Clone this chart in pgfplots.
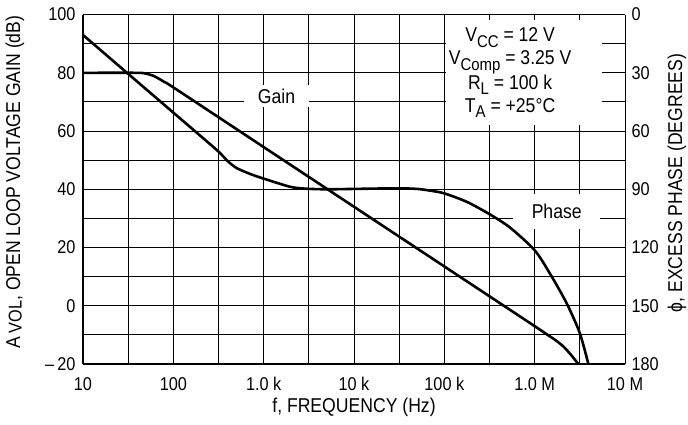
\documentclass[border=0pt]{standalone}
\usepackage{fontspec}
\setmainfont{Liberation Sans}[FakeStretch=0.88]
\usepackage{pgfplots}
\pgfplotsset{compat=1.18}

% lowered, slightly smaller subscript as in the datasheet
\newcommand\sub[1]{\raisebox{-0.28em}{\fontsize{17}{17}\selectfont #1}}

\begin{document}
\begin{tikzpicture}
\begin{axis}[name=gain,
  scale only axis, width=542pt, height=349.4pt,
  xmode=log, xmin=10, xmax=1e7,
  ymin=-20, ymax=100,
  major tick length=0pt, minor tick length=0pt,
  tick label style={font=\fontsize{18.5}{20}\selectfont},
  axis lines=left, axis line style={-, line width=2.2pt},
  xtick={10,100,1000,10000,100000,1000000,10000000},
  xticklabels={10,100,1.0 k,10 k,100 k,1.0 M,10 M},
  minor xtick={31.623,316.23,3162.3,31623,316228,3162278},
  ytick={-20,0,20,40,60,80,100},
  yticklabels={--\,20,0,20,40,60,80,100},
  minor ytick={-10,10,30,50,70,90},
  grid=both,
  major grid style={black, line width=0.9pt},
  minor grid style={black, line width=0.9pt},
  xticklabel style={anchor=center, yshift=-20pt},
  yticklabel style={anchor=east, xshift=-4pt},
  every axis x label/.style={at={(axis description cs:0.5,-0.123)}, anchor=center,
    font=\fontsize{20}{22}\selectfont},
  every axis y label/.style={at={(axis description cs:-0.1255,0.521)}, anchor=center,
    rotate=90, font=\fontsize{20}{22}\selectfont},
  xlabel={f, FREQUENCY (Hz)},
  ylabel={A\,\raisebox{-1.5pt}{\fontsize{18.5}{20}\selectfont VOL}, OPEN LOOP VOLTAGE GAIN (dB)},
]
\addplot[black, line width=2.6pt, smooth, tension=0.45] coordinates {
  (10,80) (40,80) (50,79.7) (60,79.0) (70,77.9) (80,76.8) (100,75.0)
  (1000,54.5) (10000,34.0) (100000,13.5) (1000000,-7.0) (1360000,-9.8)
  (1700000,-11.8) (2080000,-14.0) (2500000,-16.7) (3040000,-20)
};
\node[fill=white, inner sep=0pt, minimum width=65pt, minimum height=22pt,
  font=\fontsize{20}{22}\selectfont] at (rel axis cs:0.357,0.767) {Gain};
\node[fill=white, inner sep=0pt, minimum width=87pt, minimum height=35pt,
  font=\fontsize{20}{22}\selectfont] at (rel axis cs:0.874,0.436) {Phase};
\node[fill=white, inner sep=0pt, minimum width=156pt, minimum height=105pt]
  at (rel axis cs:0.8137,0.834) {};
\node[align=center, inner sep=0pt, font=\fontsize{20}{23}\selectfont]
  at (rel axis cs:0.788,0.834)
  {V\sub{CC} = 12 V\\ V\sub{Comp} = 3.25 V\\ R\sub{L} = 100 k\\ T\sub{A} = +25°C};
\end{axis}

\begin{axis}[
  scale only axis, width=542pt, height=349.4pt,
  xmode=log, xmin=10, xmax=1e7,
  ymin=0, ymax=180, y dir=reverse,
  major tick length=0pt, minor tick length=0pt,
  tick label style={font=\fontsize{18.5}{20}\selectfont},
  axis x line=none, axis y line*=right, y axis line style={draw=none},
  ytick={0,30,60,90,120,150,180},
  yticklabels={0,30,60,90,120,150,180},
  yticklabel style={anchor=west, xshift=3pt},
  every axis y label/.style={at={(axis description cs:1.096,0.518)}, anchor=center,
    rotate=90, font=\fontsize{20}{22}\selectfont},
  ylabel={ϕ, EXCESS PHASE (DEGREES)},
]
\addplot[black, line width=2.6pt, smooth, tension=0.45] coordinates {
  (10,10.5) (30,29.6) (100,50.5) (300,69.6) (400,75.5) (500,79.0) (700,82.0)
  (1000,84.5) (2000,88.8) (3000,89.7) (5000,90.0) (10000,89.8) (30000,89.5)
  (50000,89.8) (70000,90.7) (100000,92.1) (178000,96.5) (316000,102.8)
  (533000,109.7) (1000000,121.4) (1480000,133.5) (2260000,148.7)
  (3160000,164.1) (3930000,180)
};
\end{axis}

\pgfresetboundingbox
\path[use as bounding box] ([xshift=-83pt,yshift=-61pt]gain.south west)
  rectangle ([xshift=63pt,yshift=14.6pt]gain.north east);
\end{tikzpicture}
\end{document}
